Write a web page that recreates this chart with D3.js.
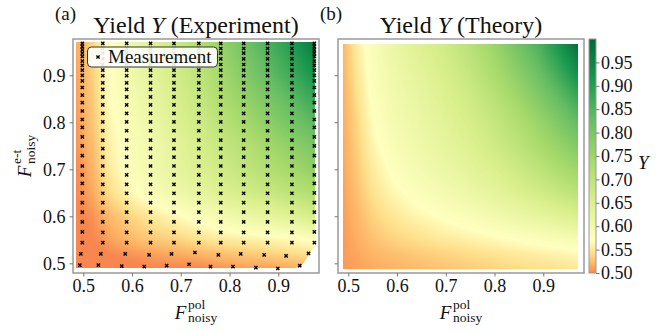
<!DOCTYPE html>
<html>
<head>
<meta charset="utf-8">
<script src="https://cdn.jsdelivr.net/npm/d3@7"></script>
<style>
  body { margin: 0; background: #fff; }
  svg { display: block; font-family: "Liberation Serif", "DejaVu Serif", serif; }
</style>
</head>
<body>
<svg id="chart" width="672" height="333"></svg>
<script>
// ---- measurement positions (F_pol, F_et) ----
const colX = [0.498, 0.540, 0.589, 0.638, 0.686, 0.737, 0.782, 0.829, 0.878, 0.928, 0.974];
// outer columns are sampled densely at the top, inner ones less so
const rowYDense = [0.968, 0.961, 0.954, 0.947, 0.940, 0.930, 0.921, 0.911, 0.900, 0.888, 0.874,
  0.858, 0.842, 0.824, 0.806, 0.789, 0.769, 0.750, 0.729, 0.707, 0.688, 0.670, 0.650, 0.629,
  0.609, 0.588, 0.567, 0.544];
const rowYSparse = [0.968, 0.957, 0.947, 0.935, 0.923, 0.911, 0.899, 0.884, 0.870, 0.854, 0.837,
  0.819, 0.801, 0.782, 0.762, 0.744, 0.726, 0.707, 0.688, 0.668, 0.649, 0.629, 0.609, 0.588,
  0.566, 0.544];
const lowRowX = [0.495, 0.536, 0.586, 0.635, 0.681, 0.729, 0.777, 0.823, 0.871, 0.916, 0.962];
const lowRowY = [0.520, 0.520, 0.520, 0.518, 0.520, 0.523, 0.518, 0.520, 0.518, 0.516, 0.521];
const bottomRowX = [0.493, 0.531, 0.579, 0.625, 0.671, 0.717, 0.761, 0.807, 0.854, 0.899, 0.944];
const bottomRowY = [0.496, 0.496, 0.494, 0.493, 0.495, 0.498, 0.493, 0.493, 0.491, 0.489, 0.495];

// ---- experiment yield, read on a grid (rows = F_et ascending) ----
const expX = [0.485, 0.52, 0.55, 0.59, 0.64, 0.69, 0.74, 0.78, 0.83, 0.88, 0.93, 0.975];
const expY = [0.49, 0.52, 0.55, 0.60, 0.65, 0.70, 0.75, 0.80, 0.85, 0.90, 0.97];
const expYield = [
  [0.49, 0.49, 0.49, 0.495, 0.50, 0.50, 0.50, 0.505, 0.51, 0.51, 0.515, 0.52],
  [0.49, 0.495, 0.50, 0.505, 0.51, 0.515, 0.52, 0.525, 0.53, 0.535, 0.54, 0.545],
  [0.49, 0.50, 0.51, 0.52, 0.53, 0.535, 0.545, 0.55, 0.555, 0.56, 0.565, 0.575],
  [0.495, 0.505, 0.52, 0.535, 0.55, 0.565, 0.58, 0.595, 0.61, 0.625, 0.64, 0.66],
  [0.50, 0.515, 0.54, 0.56, 0.585, 0.605, 0.625, 0.645, 0.665, 0.685, 0.705, 0.725],
  [0.50, 0.52, 0.55, 0.575, 0.60, 0.625, 0.65, 0.67, 0.695, 0.72, 0.745, 0.77],
  [0.505, 0.525, 0.555, 0.578, 0.60, 0.63, 0.66, 0.685, 0.715, 0.745, 0.775, 0.80],
  [0.505, 0.53, 0.56, 0.582, 0.61, 0.645, 0.675, 0.705, 0.74, 0.775, 0.81, 0.84],
  [0.51, 0.532, 0.565, 0.59, 0.62, 0.655, 0.69, 0.725, 0.765, 0.80, 0.84, 0.88],
  [0.51, 0.535, 0.568, 0.595, 0.63, 0.665, 0.70, 0.74, 0.785, 0.83, 0.875, 0.92],
  [0.515, 0.538, 0.572, 0.60, 0.64, 0.68, 0.72, 0.76, 0.81, 0.86, 0.91, 0.97]
];

// ---- theory yield, read on a grid ----
const thX = [0.49, 0.52, 0.55, 0.59, 0.64, 0.69, 0.74, 0.79, 0.84, 0.89, 0.93, 0.972];
const thY = [0.488, 0.52, 0.55, 0.60, 0.65, 0.70, 0.75, 0.80, 0.85, 0.90, 0.967];
const thYield = [
  [0.508, 0.511, 0.515, 0.519, 0.523, 0.527, 0.531, 0.535, 0.539, 0.543, 0.546, 0.549],
  [0.508, 0.514, 0.52, 0.525, 0.531, 0.536, 0.541, 0.546, 0.551, 0.556, 0.56, 0.564],
  [0.508, 0.517, 0.526, 0.535, 0.543, 0.55, 0.556, 0.563, 0.57, 0.577, 0.583, 0.589],
  [0.51, 0.522, 0.536, 0.549, 0.561, 0.572, 0.582, 0.595, 0.609, 0.624, 0.637, 0.652],
  [0.511, 0.527, 0.545, 0.562, 0.578, 0.592, 0.607, 0.625, 0.645, 0.667, 0.687, 0.707],
  [0.513, 0.532, 0.553, 0.574, 0.593, 0.61, 0.627, 0.647, 0.672, 0.702, 0.727, 0.752],
  [0.514, 0.536, 0.561, 0.584, 0.603, 0.622, 0.642, 0.667, 0.697, 0.732, 0.762, 0.792],
  [0.516, 0.54, 0.568, 0.592, 0.61, 0.632, 0.654, 0.682, 0.717, 0.757, 0.792, 0.832],
  [0.517, 0.545, 0.574, 0.598, 0.618, 0.642, 0.667, 0.702, 0.742, 0.787, 0.827, 0.877],
  [0.519, 0.55, 0.579, 0.603, 0.627, 0.652, 0.682, 0.722, 0.767, 0.817, 0.867, 0.927],
  [0.521, 0.556, 0.584, 0.612, 0.642, 0.667, 0.702, 0.747, 0.802, 0.857, 0.917, 0.99]
];

const axisTicks = [0.5, 0.6, 0.7, 0.8, 0.9];
const cbarTicks = [0.50, 0.55, 0.60, 0.65, 0.70, 0.75, 0.80, 0.85, 0.90, 0.95];
const rdylgn = ["#a50026", "#d73027", "#f46d43", "#fdae61", "#fee08b", "#ffffbf",
  "#d9ef8b", "#a6d96a", "#66bd63", "#1a9850", "#006837"];

// ---- layout ----
const svg = d3.select("#chart");
const frameCol = "#999";
const textCol = "#111";
const panelA = { left: 73, right: 319 };
const panelB = { left: 338, right: 584 };
const plotTop = 39, plotBottom = 273;
const dom = [0.4789, 0.9835];

const yScale = d3.scaleLinear().domain([0.4794, 0.9772]).range([plotBottom, plotTop]);
const xA = d3.scaleLinear().domain(dom).range([panelA.left, panelA.right]);
const xB = d3.scaleLinear().domain(dom).range([panelB.left, panelB.right]);

const cmapPos = d3.scaleLinear().domain(d3.range(11).map(i => i / 10)).range(rdylgn).clamp(true);
const norm = d3.scaleLinear().domain([0.5, 0.57, 1.0]).range([0.24, 0.5, 1.0]).clamp(true);
const color = v => cmapPos(norm(v));

function bilinear(gx, gy, grid, x, y) {
  let i = Math.max(0, Math.min(gx.length - 2, d3.bisectRight(gx, x) - 1));
  let j = Math.max(0, Math.min(gy.length - 2, d3.bisectRight(gy, y) - 1));
  const tx = Math.max(0, Math.min(1, (x - gx[i]) / (gx[i + 1] - gx[i])));
  const ty = Math.max(0, Math.min(1, (y - gy[j]) / (gy[j + 1] - gy[j])));
  const a = grid[j][i] * (1 - tx) + grid[j][i + 1] * tx;
  const b = grid[j + 1][i] * (1 - tx) + grid[j + 1][i + 1] * tx;
  return a * (1 - ty) + b * ty;
}

function heatImage(gx, gy, grid, x, y) {
  const px0 = Math.round(x(gx[0])), px1 = Math.round(x(gx[gx.length - 1]));
  const py0 = Math.round(y(gy[gy.length - 1])), py1 = Math.round(y(gy[0]));
  const w = px1 - px0, h = py1 - py0;
  const cv = document.createElement("canvas");
  cv.width = w; cv.height = h;
  const ctx = cv.getContext("2d");
  const img = ctx.createImageData(w, h);
  for (let r = 0; r < h; r++) {
    const dy = y.invert(py0 + r + 0.5);
    for (let c = 0; c < w; c++) {
      const dx = x.invert(px0 + c + 0.5);
      const col = d3.rgb(color(bilinear(gx, gy, grid, dx, dy)));
      const k = (r * w + c) * 4;
      img.data[k] = col.r; img.data[k + 1] = col.g; img.data[k + 2] = col.b; img.data[k + 3] = 255;
    }
  }
  ctx.putImageData(img, 0, 0);
  return { href: cv.toDataURL(), x: px0, y: py0, w: w, h: h };
}

// measurement points
let points = [];
colX.forEach((cx, i) => {
  const rows = (i === 0 || i === colX.length - 1) ? rowYDense : rowYSparse;
  rows.forEach(ry => points.push([cx, ry]));
  points.push([lowRowX[i], lowRowY[i]]);
  points.push([bottomRowX[i], bottomRowY[i]]);
});

const defs = svg.append("defs");
const crossPath = "M-1.6,-1.6L1.6,1.6M-1.6,1.6L1.6,-1.6";

// ---- panel (a) ----
const hullPts = points.map(p => [xA(p[0]), yScale(p[1])]);
hullPts.push([xA(expX[0]), yScale(expY[0])], [xA(expX[0]), yScale(expY[expY.length - 1])]);
const hull = d3.polygonHull(hullPts);
const mask = defs.append("mask").attr("id", "expMask");
mask.append("path")
  .attr("d", "M" + hull.join("L") + "Z")
  .attr("fill", "#fff").attr("stroke", "#fff").attr("stroke-width", 3).attr("stroke-linejoin", "round");

const imA = heatImage(expX, expY, expYield, xA, yScale);
svg.append("image")
  .attr("x", imA.x).attr("y", imA.y).attr("width", imA.w).attr("height", imA.h)
  .attr("preserveAspectRatio", "none")
  .attr("href", imA.href)
  .attr("mask", "url(#expMask)");

svg.append("g").selectAll("path.meas")
  .data(points).enter()
  .append("path")
  .attr("class", "meas")
  .attr("transform", d => "translate(" + xA(d[0]) + "," + yScale(d[1]) + ")")
  .attr("d", crossPath)
  .attr("stroke", "#000").attr("stroke-width", 1.4);

// legend
const leg = svg.append("g");
leg.append("rect")
  .attr("x", 87.5).attr("y", 47).attr("width", 130).attr("height", 20).attr("rx", 4)
  .attr("fill", "#fff").attr("fill-opacity", 0.9)
  .attr("stroke", "#333").attr("stroke-width", 1);
leg.append("path")
  .attr("transform", "translate(98,57)")
  .attr("d", crossPath)
  .attr("stroke", "#000").attr("stroke-width", 1.4);
leg.append("text")
  .attr("x", 108).attr("y", 63.2).attr("font-size", 19).attr("fill", textCol)
  .text("Measurement");

// ---- panel (b) ----
const imB = heatImage(thX, thY, thYield, xB, yScale);
svg.append("image")
  .attr("x", imB.x).attr("y", imB.y).attr("width", imB.w).attr("height", imB.h)
  .attr("preserveAspectRatio", "none")
  .attr("href", imB.href);

// ---- frames and axes ----
function frame(p) {
  svg.append("rect")
    .attr("x", p.left).attr("y", plotTop).attr("width", p.right - p.left).attr("height", plotBottom - plotTop)
    .attr("fill", "none").attr("stroke", frameCol).attr("stroke-width", 1.5);
}
frame(panelA);
frame(panelB);

function styleAxis(g) {
  g.select(".domain").remove();
  g.selectAll(".tick line").attr("stroke", "#777").attr("stroke-width", 1);
  g.selectAll(".tick text").attr("fill", textCol).attr("font-size", 18)
    .attr("font-family", "Liberation Serif, serif");
}

[xA, xB].forEach(xs => {
  svg.append("g").attr("transform", "translate(0," + plotBottom + ")")
    .call(d3.axisBottom(xs).tickValues(axisTicks).tickSize(3.5).tickPadding(2.5).tickFormat(d3.format(".1f")))
    .call(styleAxis);
});
svg.append("g").attr("transform", "translate(" + panelA.left + ",0)")
  .call(d3.axisLeft(yScale).tickValues(axisTicks).tickSize(3.5).tickPadding(4).tickFormat(d3.format(".1f")))
  .call(styleAxis);
svg.append("g").attr("transform", "translate(" + panelB.left + ",0)")
  .call(d3.axisLeft(yScale).tickValues(axisTicks).tickSize(3.5).tickFormat(""))
  .call(styleAxis);

// ---- colorbar ----
const cb = { left: 589, right: 596 };
const cbScale = d3.scaleLinear().domain([0.5, 1.0]).range([plotBottom, plotTop]);
const grad = defs.append("linearGradient").attr("id", "cbGrad")
  .attr("x1", 0).attr("y1", 1).attr("x2", 0).attr("y2", 0);
grad.selectAll("stop")
  .data(d3.range(0, 51).map(i => i / 50)).enter()
  .append("stop")
  .attr("offset", d => d)
  .attr("stop-color", d => color(cbScale.domain()[0] + d * (cbScale.domain()[1] - cbScale.domain()[0])));
svg.append("rect")
  .attr("x", cb.left).attr("y", plotTop).attr("width", cb.right - cb.left).attr("height", plotBottom - plotTop)
  .attr("fill", "url(#cbGrad)").attr("stroke", frameCol).attr("stroke-width", 1);
svg.append("g").attr("transform", "translate(" + cb.right + ",0)")
  .call(d3.axisRight(cbScale).tickValues(cbarTicks).tickSize(3.5).tickPadding(1.5).tickFormat(d3.format(".2f")))
  .call(styleAxis);
svg.append("text")
  .attr("x", 638).attr("y", 169).attr("font-size", 19).attr("font-style", "italic").attr("fill", textCol)
  .text("Y");

// ---- titles ----
function title(cx, label) {
  const t = svg.append("text").attr("x", cx).attr("y", 33).attr("text-anchor", "middle")
    .attr("font-size", 24).attr("fill", textCol);
  t.append("tspan").text("Yield ");
  t.append("tspan").attr("font-style", "italic").text("Y");
  t.append("tspan").text(" (" + label + ")");
}
title((panelA.left + panelA.right) / 2, "Experiment");
title((panelB.left + panelB.right) / 2, "Theory");
svg.append("text").attr("x", 55).attr("y", 19.5).attr("font-size", 19).attr("fill", textCol).text("(a)");
svg.append("text").attr("x", 320).attr("y", 19.5).attr("font-size", 19).attr("fill", textCol).text("(b)");

// ---- F^sup_sub labels ----
function fLabel(g, sup, sub) {
  const F = g.append("text").attr("font-size", 19).attr("font-style", "italic").attr("fill", textCol).text("F");
  const fw = F.node().getComputedTextLength() + 1.5;
  const a = g.append("text").attr("x", fw).attr("y", -10).attr("font-size", 13.5).attr("fill", textCol).text(sup);
  const b = g.append("text").attr("x", fw).attr("y", 3.5).attr("font-size", 13.5).attr("fill", textCol).text(sub);
  return fw + Math.max(a.node().getComputedTextLength(), b.node().getComputedTextLength());
}
[panelA, panelB].forEach(p => {
  const g = svg.append("g");
  const w = fLabel(g, "pol", "noisy");
  g.attr("transform", "translate(" + ((p.left + p.right) / 2 - w / 2) + ",318.5)");
});
const gy = svg.append("g");
const wy = fLabel(gy, "e-t", "noisy");
gy.attr("transform", "translate(31," + ((plotTop + plotBottom) / 2 + wy / 2) + ") rotate(-90)");
</script>
</body>
</html>
